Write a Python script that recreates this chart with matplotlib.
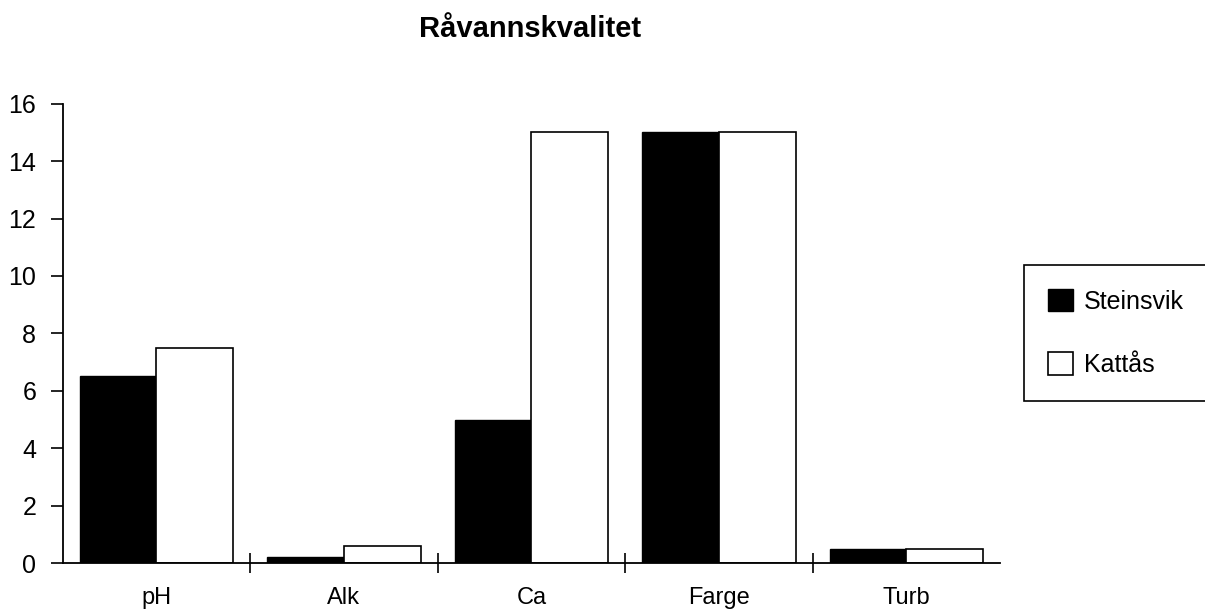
import matplotlib.pyplot as plt
import numpy as np

# data
categories = ['pH', 'Alk', 'Ca', 'Farge', 'Turb']
steinsvik = [6.5, 0.2, 5.0, 15.0, 0.5]
kattas = [7.5, 0.6, 15.0, 15.0, 0.5]
yticks = [0, 2, 4, 6, 8, 10, 12, 14, 16]

plt.rcParams['font.family'] = ['Liberation Sans', 'DejaVu Sans']

fig = plt.figure(figsize=(12.05, 6.14), dpi=100)
ax = fig.add_axes([0.052, 0.083, 0.778, 0.748])

x = np.arange(len(categories))
w = 0.41
ax.bar(x - w / 2, steinsvik, w, color='black', edgecolor='black', linewidth=1, label='Steinsvik')
ax.bar(x + w / 2, kattas, w, color='white', edgecolor='black', linewidth=1.2, label='Kattås')

ax.set_xlim(-0.5, len(categories) - 0.5)
ax.set_ylim(0, 16)
ax.set_yticks(yticks)
ax.tick_params(axis='y', labelsize=18, direction='out', length=9, width=1.2, pad=10)

# category labels centred, tick marks at group boundaries
ax.set_xticks(x)
ax.set_xticklabels(categories)
ax.tick_params(axis='x', which='major', length=0, labelsize=17, pad=17)
ax.set_xticks(np.arange(0.5, len(categories) - 0.5, 1), minor=True)
ax.tick_params(axis='x', which='minor', direction='inout', length=14, width=1.2)

for s in ['top', 'right']:
    ax.spines[s].set_visible(False)
for s in ['left', 'bottom']:
    ax.spines[s].set_linewidth(1.3)

fig.suptitle('Råvannskvalitet', fontsize=21, fontweight='bold', x=0.44, y=0.975)

leg = fig.legend(loc='upper left', bbox_to_anchor=(0.85, 0.568), fontsize=18,
                 frameon=True, fancybox=False, edgecolor='black', framealpha=1,
                 handlelength=1.0, handleheight=1.0, labelspacing=1.55,
                 borderpad=0.95, handletextpad=0.45, borderaxespad=0)
leg.get_frame().set_linewidth(1.2)

fig.savefig('out.png', dpi=100)
